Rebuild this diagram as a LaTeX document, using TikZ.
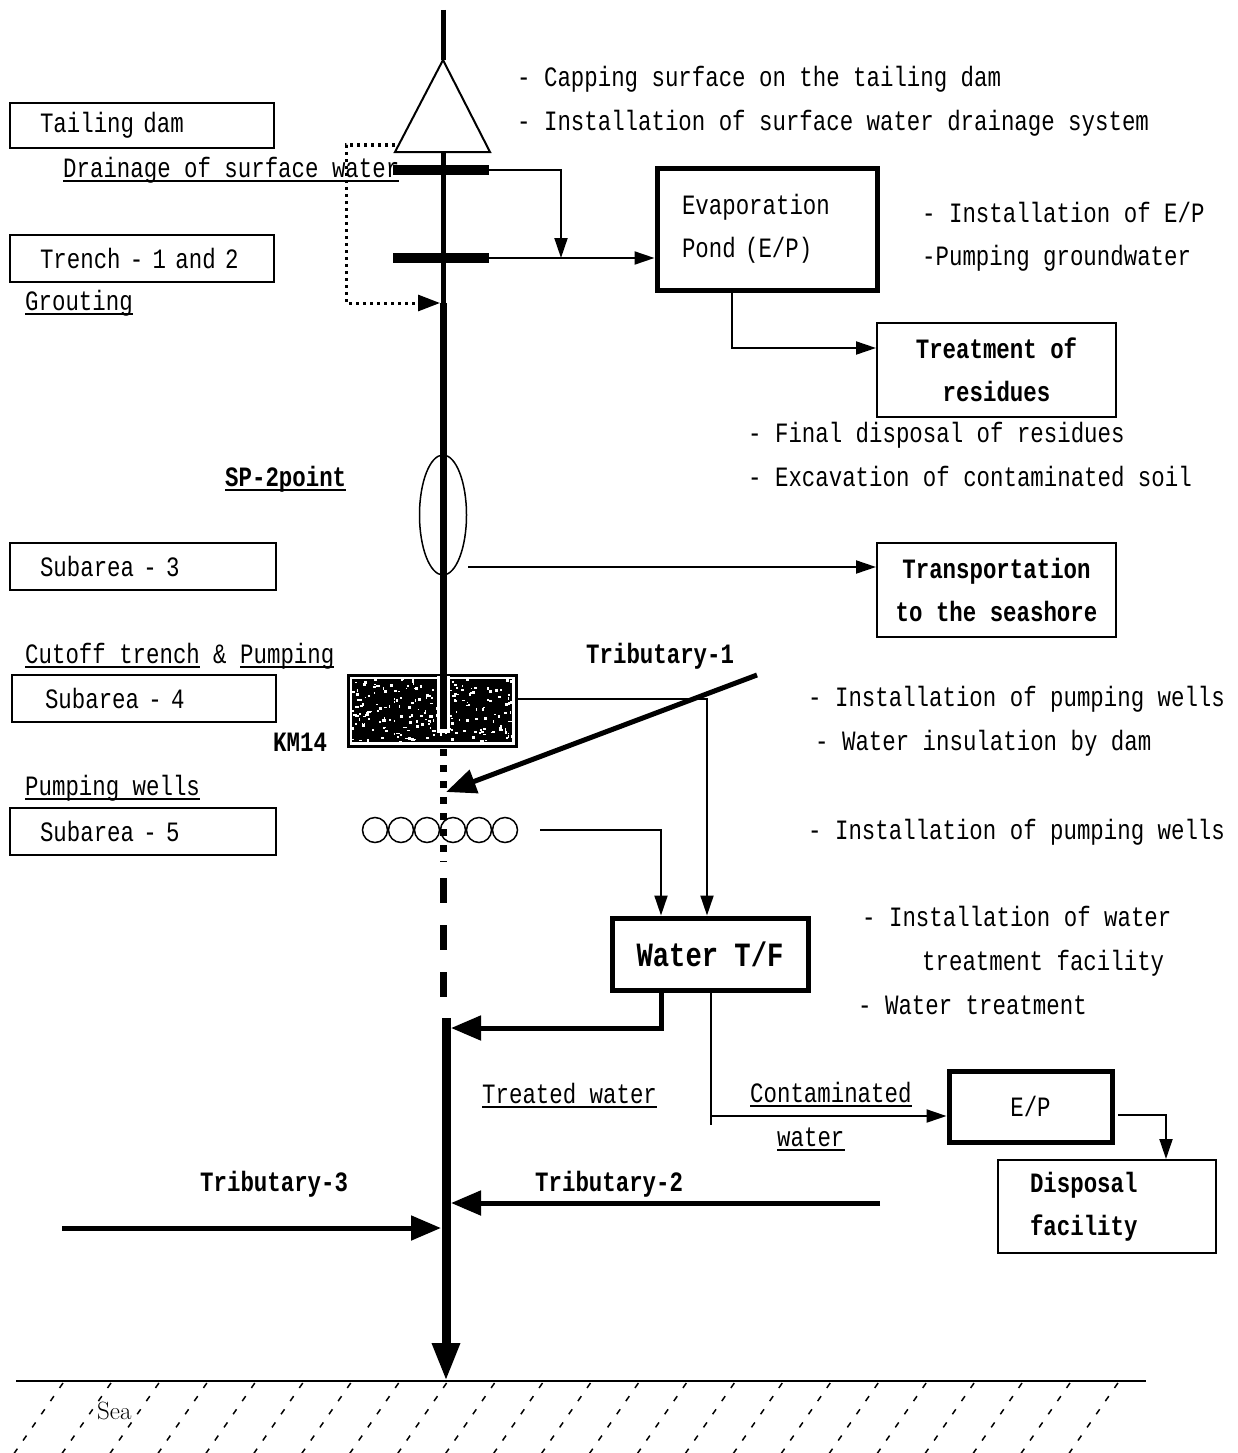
\documentclass[tikz,border=0pt]{standalone}
\usepackage{fontspec}
\newfontfamily\dfont{Liberation Mono}[FakeStretch=0.8]
\usetikzlibrary{arrows.meta,shapes.geometric}
\begin{document}
\begin{tikzpicture}[x=1pt,y=-1pt,
  lbl/.style={font=\dfont\fontsize{28}{34}\selectfont, inner sep=0pt, anchor=base west},
  blbl/.style={lbl, font=\dfont\bfseries\fontsize{28}{34}\selectfont},
  box/.style={draw, line width=2, rectangle, inner ysep=0pt, font=\dfont\fontsize{28}{43}\selectfont},
  bbox/.style={box, font=\dfont\bfseries\fontsize{28}{43}\selectfont},
  tbox/.style={box, line width=5},
  thin/.style={line width=2},
  ta/.style={-{Triangle[length=20,width=13]}},
  ba/.style={-{Triangle[length=30,width=24]}},
  ul/.style={line width=1.5},
  well/.style={circle, draw, line width=1.5, minimum size=25, inner sep=0pt},
]
\fill[white] (0,0) rectangle (1238,1453);
\useasboundingbox (0,0) rectangle (1238,1453);

% ---------- left boxes ----------
\node[box, minimum width=264, minimum height=45, text width=204, inner xsep=30, align=left] (tail) at (142,125.5) {Tailing dam};
\node[box, minimum width=264, minimum height=47, text width=204, inner xsep=30, align=left] (trench) at (142,258.5) {Trench - 1 and 2};
\node[box, minimum width=266, minimum height=47, text width=206, inner xsep=30, align=left] (sub3) at (143,566.5) {Subarea - 3};
\node[box, minimum width=264, minimum height=47, text width=198, inner xsep=33, align=left] (sub4) at (144,698.5) {Subarea - 4};
\node[box, minimum width=266, minimum height=47, text width=206, inner xsep=30, align=left] (sub5) at (143,831.5) {Subarea - 5};

% ---------- right boxes ----------
\node[tbox, minimum width=220, minimum height=122, text width=170, inner xsep=25, align=left] (evap) at (767,229) {Evaporation\\Pond (E/P)};
\node[bbox, minimum width=239, minimum height=94, align=center] (treat) at (996.5,370) {Treatment of\\residues};
\node[bbox, minimum width=239, minimum height=94, align=center] (trans) at (996.5,590) {Transportation\\to the seashore};
\node[tbox, minimum width=196, minimum height=72, font=\dfont\bfseries\fontsize{34}{40}\selectfont] (wtf) at (710,954) {Water T/F};
\node[tbox, minimum width=163, minimum height=71] (ep2) at (1030.5,1106.5) {E/P};
\node[bbox, minimum width=218, minimum height=93, text width=154, inner xsep=32, align=left] (disp) at (1107,1206.5) {Disposal\\facility};

% ---------- labels ----------
\node[lbl] (cap) at (517,87) {- Capping surface on the tailing dam};
\node[lbl] (inst1) at (517,131) {- Installation of surface water drainage system};
\node[lbl] (drain) at (63,177) {Drainage of surface water};
\draw[ul] ([yshift=-4pt]drain.base west) -- ([yshift=-4pt]drain.base east);
\node[lbl] (instep) at (922,222) {- Installation of E/P};
\node[lbl] (pumpgw) at (922,265) {-Pumping groundwater};
\node[lbl] (grout) at (25,310) {Grouting};
\draw[ul] ([yshift=-4pt]grout.base west) -- ([yshift=-4pt]grout.base east);
\node[lbl] (final) at (748,442) {- Final disposal of residues};
\node[lbl] (excav) at (748,486) {- Excavation of contaminated soil};
\node[blbl] (sp2) at (225,486) {SP-2point};
\draw[ul] ([yshift=-4pt]sp2.base west) -- ([yshift=-4pt]sp2.base east);
\node[lbl] (cut) at (25,663) {Cutoff trench};
\draw[ul] ([yshift=-4pt]cut.base west) -- ([yshift=-4pt]cut.base east);
\node[lbl] (amp) at (213,663) {\&};
\node[lbl] (pumpu) at (240,663) {Pumping};
\draw[ul] ([yshift=-4pt]pumpu.base west) -- ([yshift=-4pt]pumpu.base east);
\node[blbl] (trib1) at (586,663) {Tributary-1};
\node[lbl] (ipw1) at (808,706) {- Installation of pumping wells};
\node[lbl] (wid) at (815,750) {- Water insulation by dam};
\node[blbl] (km) at (273,751) {KM14};
\node[lbl] (pwl) at (25,795) {Pumping wells};
\draw[ul] ([yshift=-4pt]pwl.base west) -- ([yshift=-4pt]pwl.base east);
\node[lbl] (ipw2) at (808,839) {- Installation of pumping wells};
\node[lbl] (iwt) at (862,926) {- Installation of water};
\node[lbl] (tfac) at (922,970) {treatment facility};
\node[lbl] (wtr) at (858,1014) {- Water treatment};
\node[lbl] (tw) at (482,1103) {Treated water};
\draw[ul] ([yshift=-4pt]tw.base west) -- ([yshift=-4pt]tw.base east);
\node[lbl] (cont) at (750,1102) {Contaminated};
\draw[ul] ([yshift=-4pt]cont.base west) -- ([yshift=-4pt]cont.base east);
\node[lbl] (cwat) at (777,1146) {water};
\draw[ul] ([yshift=-4pt]cwat.base west) -- ([yshift=-4pt]cwat.base east);
\node[blbl] (trib3) at (200,1191) {Tributary-3};
\node[blbl] (trib2) at (535,1191) {Tributary-2};

% ---------- main river ----------
\coordinate (top) at (443,10);
\coordinate (tA) at (443,60);
\coordinate (tL) at (395,152);
\coordinate (tR) at (490,152);
\coordinate (tB) at (443,152);
\coordinate (gr) at (443,303);
\coordinate (bt) at (443,675);
\draw[line width=5] (top) -- (tA);
\draw[line width=2, fill=white] (tA) -- (tL) -- (tR) -- cycle;
\draw[line width=5] (tB) -- (gr);
\draw[line width=7] (gr) -- (bt);

% bars
\coordinate (b1w) at (393,170); \coordinate (b1e) at (489,170);
\coordinate (b2w) at (393,258); \coordinate (b2e) at (489,258);
\draw[line width=10] (b1w) -- (b1e);
\draw[line width=10] (b2w) -- (b2e);

% drainage arrows
\coordinate (d1) at (561,170);
\draw[thin, ta] (b1e) -- (d1) -- (d1 |- b2e);
\draw[thin, ta] (b2e) -- (b2e -| evap.west);

% grouting dotted
\coordinate (g1) at (395,145);
\coordinate (g2) at (346,145);
\coordinate (g3) at (346,303);
\draw[line width=3, dash pattern=on 3pt off 4pt, -{Triangle[length=22,width=16]}] (g1) -- (g2) -- (g3) -- (440,303);

% E/P -> treatment
\coordinate (c1) at (732,348);
\draw[thin, ta] (evap.south -| c1) -- (c1) -- (c1 -| treat.west);

% SP-2 ellipse
\node[draw, ellipse, line width=1.5, minimum width=47, minimum height=120, inner sep=0pt] (sp) at (443,515) {};
\coordinate (c2) at (468,567);
\draw[thin, ta] (c2) -- (c2 -| trans.west);

% stippled block
\node[draw, line width=3, fill=white, minimum width=168, minimum height=71, inner sep=0pt] (blk) at (432,710.5) {};
\begin{scope}
\clip (352,679) rectangle (512,742);
\fill[black] (352,679) rectangle (512,742);
\pgfmathsetseed{12}
\foreach \i in {1,...,230}{
  \pgfmathsetmacro{\sx}{350+164*rnd}
  \pgfmathsetmacro{\sy}{677+67*rnd}
  \pgfmathsetmacro{\sw}{1+2.6*rnd}
  \pgfmathsetmacro{\sh}{1+2.2*rnd}
  \fill[white] (\sx,\sy) rectangle ++(\sw,\sh);
}
\end{scope}
\draw[white, line width=13] (443,676) -- (443,733);
\draw[line width=7] (443,674) -- (443,729);

% block -> water T/F
\coordinate (c3) at (707,699);
\draw[thin, ta] (blk.east |- c3) -- (c3) -- (c3 |- wtf.north);

% wells
\foreach \n/\x in {1/375,2/401,3/427,4/453,5/479,6/505}{
  \node[well] (w\n) at (\x,830) {};
}
\coordinate (c4s) at (540,830);
\coordinate (c4) at (661,830);
\draw[thin, ta] (c4s) -- (c4) -- (c4 |- wtf.north);

% dotted / dashed river below block
\draw[line width=7, dash pattern=on 7pt off 9pt] (443,749) -- (443,862);
\draw[line width=7, dash pattern=on 25pt off 22pt] (443,878) -- (443,1000);

% tributary 1
\coordinate (t1s) at (757,675);
\coordinate (t1e) at (446,792);
\draw[line width=5, ba] (t1s) -- (t1e);

% lower river
\coordinate (rs) at (446,1018);
\coordinate (sea) at (446,1381);
\draw[line width=9, -{Triangle[length=38,width=26]}] (rs) -- (sea);

% treated water
\coordinate (c7) at (661,1028);
\coordinate (c7e) at (451,1028);
\draw[line width=5, ba] (c4 |- wtf.south) -- (c7) -- (c7e);

% contaminated water
\coordinate (c5) at (711,1116);
\coordinate (c5b) at (711,1125);
\draw[thin] (c5 |- wtf.south) -- (c5b);
\draw[thin, ta] (c5) -- (c5 -| ep2.west);

% E/P -> disposal
\coordinate (c6s) at (1118,1115);
\coordinate (c6) at (1166,1115);
\draw[thin, ta] (c6s) -- (c6) -- (c6 |- disp.north);

% tributaries 2 and 3
\coordinate (t2s) at (880,1203);
\coordinate (t2e) at (451,1203);
\draw[line width=5, ba] (t2s) -- (t2e);
\coordinate (t3s) at (62,1228);
\coordinate (t3e) at (441,1228);
\draw[line width=5, ba] (t3s) -- (t3e);

% sea
\coordinate (sl) at (16,1381);
\coordinate (sr) at (1146,1381);
\draw[line width=2] (sl) -- (sr);
\begin{scope}
\clip (0,1381) rectangle (1238,1453);
\foreach \k in {0,...,22}{
  \pgfmathsetmacro{\hx}{63+47.95*\k}
  \draw[line width=1.5, dash pattern=on 6pt off 10pt] (\hx,1383) -- ++(-50,72);
}
\end{scope}
\node[font=\rmfamily\fontsize{25}{30}\selectfont, inner sep=0pt, anchor=base west] (sealbl) at (97,1419) {Sea};
\end{tikzpicture}
\end{document}
